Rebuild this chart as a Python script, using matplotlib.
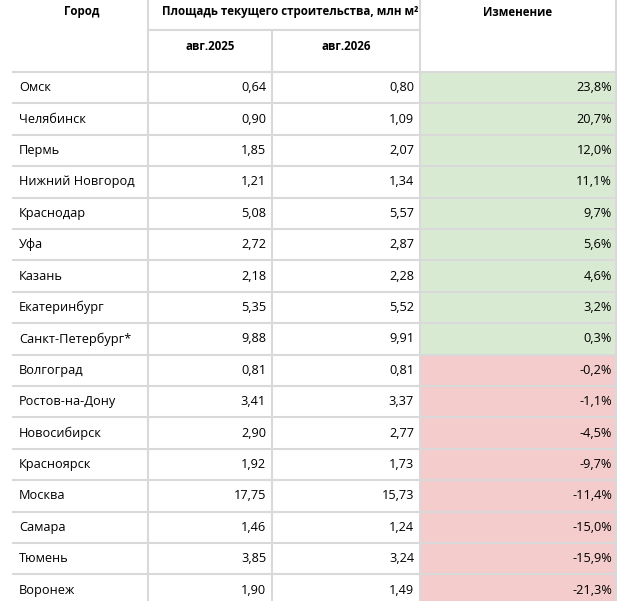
import matplotlib
matplotlib.use('Agg')
import matplotlib.pyplot as plt
from matplotlib.patches import Rectangle

plt.rcParams['font.family'] = ['Open Sans', 'DejaVu Sans']

# данные таблицы
cities = ['Омск', 'Челябинск', 'Пермь', 'Нижний Новгород', 'Краснодар', 'Уфа',
          'Казань', 'Екатеринбург', 'Санкт-Петербург*', 'Волгоград', 'Ростов-на-Дону',
          'Новосибирск', 'Красноярск', 'Москва', 'Самара', 'Тюмень', 'Воронеж']
area_2025 = [0.64, 0.90, 1.85, 1.21, 5.08, 2.72, 2.18, 5.35, 9.88, 0.81, 3.41,
             2.90, 1.92, 17.75, 1.46, 3.85, 1.90]
area_2026 = [0.80, 1.09, 2.07, 1.34, 5.57, 2.87, 2.28, 5.52, 9.91, 0.81, 3.37,
             2.77, 1.73, 15.73, 1.24, 3.24, 1.49]
change = [23.8, 20.7, 12.0, 11.1, 9.7, 5.6, 4.6, 3.2, 0.3, -0.2, -1.1,
          -4.5, -9.7, -11.4, -15.0, -15.9, -21.3]
header_city = 'Город'
header_area = 'Площадь текущего строительства, млн м²'
header_change = 'Изменение'
sub_headers = ['авг.2025', 'авг.2026']

W, H = 620, 601
fig = plt.figure(figsize=(W / 100, H / 100), dpi=100)
ax = fig.add_axes([0, 0, 1, 1])
ax.set_xlim(0, W)
ax.set_ylim(H, 0)
ax.axis('off')

# геометрия (пиксели)
x_left, x1, x2, x3, x_right = 13, 148, 272, 420, 616
head_mid = 30
head_bot = 72
row_h = 31.4
grid_c = '#d9d9d9'
lw = 1.5
fs = 9.2
fs_head = 8.3


def fmt(v, nd=2):
    return f'{v:.{nd}f}'.replace('.', ',')


# заливка столбца изменений
for i, c in enumerate(change):
    top = head_bot + i * row_h
    col = '#d9ead3' if c > 0 else '#f4cccc'
    ax.add_patch(Rectangle((x3, top), x_right - x3, row_h, facecolor=col,
                           edgecolor='none', zorder=0))

# линии
n = len(cities)
y_end = head_bot + n * row_h
for i in range(n):
    y = head_bot + i * row_h
    ax.plot([x_left, x_right], [y, y], color=grid_c, lw=lw, zorder=1)
ax.plot([x1, x3], [head_mid, head_mid], color=grid_c, lw=lw, zorder=1)
for x in (x1, x3, x_right):
    ax.plot([x, x], [0, y_end], color=grid_c, lw=lw, zorder=1)
ax.plot([x2, x2], [head_mid, y_end], color=grid_c, lw=lw, zorder=1)

# заголовки
ax.text((x_left + x1) / 2 + 1, 12, header_city, ha='center', va='center',
        fontsize=fs_head, fontweight='bold')
ax.text((x1 + x3) / 2 + 6, 12, header_area, ha='center', va='center',
        fontsize=fs_head, fontweight='bold')
ax.text((x3 + x_right) / 2, 12, header_change, ha='center', va='center',
        fontsize=fs_head, fontweight='bold')
ax.text((x1 + x2) / 2, 46, sub_headers[0], ha='center', va='center',
        fontsize=fs_head, fontweight='bold')
ax.text((x2 + x3) / 2, 46, sub_headers[1], ha='center', va='center',
        fontsize=fs_head, fontweight='bold')

# строки
for i in range(n):
    yc = head_bot + (i + 0.5) * row_h
    ax.text(x_left + 6, yc, cities[i], ha='left', va='center', fontsize=fs)
    ax.text(x2 - 6, yc, fmt(area_2025[i]), ha='right', va='center', fontsize=fs)
    ax.text(x3 - 6, yc, fmt(area_2026[i]), ha='right', va='center', fontsize=fs)
    ax.text(x_right - 4, yc, fmt(change[i], 1) + '%', ha='right', va='center',
            fontsize=fs)

fig.savefig('out.png', dpi=100)
